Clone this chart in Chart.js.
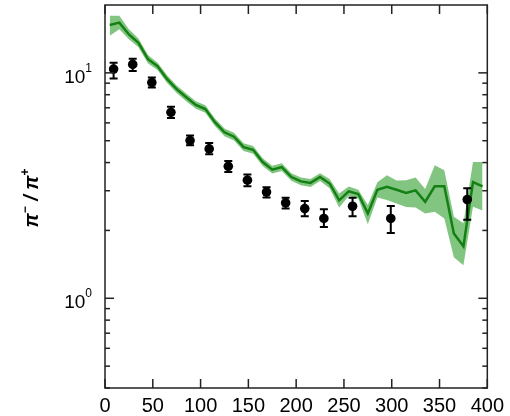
<!DOCTYPE html>
<html>
<head>
<meta charset="utf-8">
<script src="https://cdn.jsdelivr.net/npm/chart.js@4"></script>
<style>
html,body{margin:0;padding:0;background:#fff;}
canvas{display:block;}
</style>
</head>
<body>
<canvas id="c" width="510" height="416"></canvas>
<script>
// ---- data ----
const dataX   = [9, 29, 49, 69, 89, 109, 129, 149, 169, 189, 209, 229, 259, 299, 379];
const dataY   = [10.4, 10.9, 9.06, 6.68, 5.01, 4.60, 3.85, 3.34, 2.96, 2.65, 2.50, 2.26, 2.56, 2.26, 2.74];
const dataHi  = [11.1, 11.56, 9.53, 7.08, 5.27, 4.88, 4.06, 3.54, 3.11, 2.79, 2.70, 2.48, 2.79, 2.57, 3.08];
const dataLo  = [9.45, 10.2, 8.61, 6.31, 4.77, 4.35, 3.63, 3.14, 2.80, 2.50, 2.31, 2.07, 2.31, 1.95, 2.23];

const modelX  = [5, 15, 25, 35, 45, 55, 65, 75, 85, 95, 105, 115, 125, 135, 145, 155, 165, 175, 185, 195,
                 205, 215, 225, 235, 245, 255, 265, 275, 285, 295, 305, 315, 325, 335, 345, 355, 365, 375, 385, 395];
const modelY  = [16.3, 16.7, 14.8, 13.6, 11.5, 10.7, 9.38, 8.47, 7.79, 7.20, 6.91, 6.04, 5.45, 5.21, 4.68, 4.56, 4.02, 3.72, 3.82, 3.45,
                 3.30, 3.25, 3.45, 3.23, 2.72, 2.98, 2.90, 2.38, 3.03, 3.12, 3.03, 2.93, 3.01, 2.68, 3.14, 3.14, 1.94, 1.70, 3.28, 3.14];
const modelHi = [17.9, 17.9, 15.6, 14.2, 12.0, 11.1, 9.75, 8.80, 8.10, 7.48, 7.18, 6.28, 5.67, 5.42, 4.87, 4.74, 4.18, 3.87, 3.97, 3.59,
                 3.43, 3.38, 3.59, 3.38, 2.92, 3.13, 3.03, 2.59, 3.27, 3.51, 3.33, 3.34, 3.43, 3.05, 3.89, 3.70, 2.30, 2.15, 4.02, 4.02];
const modelLo = [14.6, 15.6, 14.1, 13.0, 11.0, 10.3, 9.02, 8.15, 7.49, 6.93, 6.65, 5.81, 5.24, 5.01, 4.50, 4.38, 3.86, 3.58, 3.67, 3.32,
                 3.17, 3.12, 3.31, 3.08, 2.53, 2.84, 2.77, 2.13, 2.80, 2.73, 2.63, 2.54, 2.53, 2.38, 2.42, 2.26, 1.52, 1.40, 2.55, 2.45];

const xTicks     = [0, 50, 100, 150, 200, 250, 300, 350, 400];
const yMajor     = [1, 10];
const yMajorExp  = ['0', '1'];
const yMinor     = [0.4, 0.5, 0.6, 0.7, 0.8, 0.9, 2, 3, 4, 5, 6, 7, 8, 9];

const FONT = '"Liberation Sans", Arial, Helvetica, sans-serif';
const pts = (xs, ys) => xs.map((v, i) => ({x: v, y: ys[i]}));

const decor = {
  id: 'decor',
  afterDatasetsDraw(chart) {
    const {ctx, scales: {x, y}} = chart;
    ctx.save();
    ctx.strokeStyle = '#000';
    ctx.lineWidth = 2;
    dataX.forEach((v, i) => {
      const px = x.getPixelForValue(v);
      const top = y.getPixelForValue(dataHi[i]);
      const bot = y.getPixelForValue(dataLo[i]);
      ctx.beginPath();
      ctx.moveTo(px, top); ctx.lineTo(px, bot);
      ctx.moveTo(px - 4, top); ctx.lineTo(px + 4, top);
      ctx.moveTo(px - 4, bot); ctx.lineTo(px + 4, bot);
      ctx.stroke();
    });
    ctx.restore();
  },
  afterDraw(chart) {
    const {ctx, chartArea: a, scales: {x, y}} = chart;
    ctx.save();
    ctx.strokeStyle = '#222';
    ctx.lineWidth = 1.5;
    ctx.strokeRect(a.left, a.top, a.right - a.left, a.bottom - a.top);
    const seg = (x1, y1, x2, y2) => { ctx.beginPath(); ctx.moveTo(x1, y1); ctx.lineTo(x2, y2); ctx.stroke(); };
    xTicks.forEach(v => {
      const px = x.getPixelForValue(v);
      seg(px, a.bottom, px, a.bottom - 9);
      seg(px, a.top, px, a.top + 9);
    });
    yMajor.forEach(v => {
      const py = y.getPixelForValue(v);
      seg(a.left, py, a.left + 9, py);
      seg(a.right, py, a.right - 9, py);
    });
    yMinor.forEach(v => {
      const py = y.getPixelForValue(v);
      seg(a.left, py, a.left + 5, py);
      seg(a.right, py, a.right - 5, py);
    });
    // y tick labels 10^n
    ctx.fillStyle = '#000';
    yMajor.forEach((v, i) => {
      const py = y.getPixelForValue(v);
      ctx.font = '12px ' + FONT;
      const ew = ctx.measureText(yMajorExp[i]).width;
      ctx.textAlign = 'right';
      ctx.textBaseline = 'alphabetic';
      const rx = a.left - 13;
      ctx.fillText(yMajorExp[i], rx, py - 1);
      ctx.font = '19px ' + FONT;
      ctx.fillText('10', rx - ew, py + 10);
    });
    // y axis title
    ctx.translate(38, 198);
    ctx.rotate(-Math.PI / 2);
    ctx.textAlign = 'left';
    ctx.textBaseline = 'alphabetic';
    const big = 'italic bold 20px ' + FONT;
    const small = 'bold 12px ' + FONT;
    const parts = [['π', big, 0], ['−', small, -9], [' / ', big, 0], ['π', big, 0], ['+', small, -9]];
    let total = 0;
    parts.forEach(p => { ctx.font = p[1]; total += ctx.measureText(p[0]).width; });
    let cx = -total / 2;
    parts.forEach(p => { ctx.font = p[1]; ctx.fillText(p[0], cx, p[2]); cx += ctx.measureText(p[0]).width; });
    ctx.restore();
  }
};

new Chart(document.getElementById('c'), {
  type: 'line',
  data: {
    datasets: [
      {
        label: 'data',
        data: pts(dataX, dataY),
        showLine: false,
        pointRadius: 4.8,
        pointBackgroundColor: '#000',
        pointBorderColor: '#000',
        borderColor: '#000',
        pointBorderWidth: 0
      },
      {
        label: 'model',
        data: pts(modelX, modelY),
        borderColor: 'rgb(20,128,20)',
        borderWidth: 2.5,
        pointRadius: 0,
        fill: false,
        tension: 0
      },
      {
        label: 'model high',
        data: pts(modelX, modelHi),
        borderWidth: 0,
        borderColor: 'rgba(0,0,0,0)',
        pointRadius: 0,
        backgroundColor: 'rgba(70,170,70,0.68)',
        fill: '+1',
        tension: 0
      },
      {
        label: 'model low',
        data: pts(modelX, modelLo),
        borderWidth: 0,
        borderColor: 'rgba(0,0,0,0)',
        pointRadius: 0,
        fill: false,
        tension: 0
      }
    ]
  },
  options: {
    responsive: false,
    animation: false,
    layout: {padding: {top: 5, right: 21, left: 0, bottom: 0}},
    plugins: {legend: {display: false}, tooltip: {enabled: false}},
    scales: {
      x: {
        type: 'linear',
        min: 0, max: 400,
        grid: {display: false, drawTicks: false},
        border: {display: false},
        ticks: {
          stepSize: 50,
          color: '#000',
          font: {family: FONT, size: 20},
          padding: 6,
          maxRotation: 0,
          autoSkip: false
        },
        afterFit(s) { s.height = 28; }
      },
      y: {
        type: 'logarithmic',
        min: 0.4, max: 20,
        grid: {display: false, drawTicks: false},
        border: {display: false},
        ticks: {display: false},
        afterFit(s) { s.width = 105; }
      }
    }
  },
  plugins: [decor]
});
</script>
</body>
</html>
